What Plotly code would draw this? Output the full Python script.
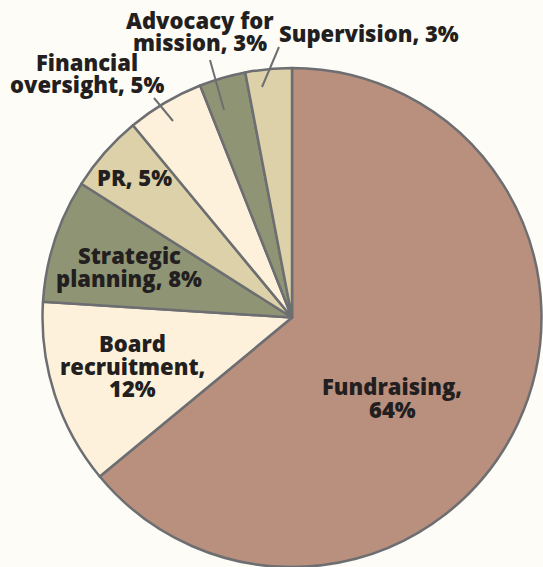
import plotly.graph_objects as go

W, H = 543, 567

labels = ["Fundraising", "Board recruitment", "Strategic planning", "PR",
          "Financial oversight", "Advocacy for mission", "Supervision"]
values = [64, 12, 8, 5, 5, 3, 3]
colors = ["#B98F7E", "#FDF1DC", "#8F9574", "#DCD1A9", "#FDF1DC", "#8F9574", "#DCD1A9"]

# label lines as in the original, and where the first line sits (pixels)
label_lines = [["Fundraising,", "64%"], ["Board", "recruitment,", "12%"],
               ["Strategic", "planning, 8%"], ["PR, 5%"], ["Financial", "oversight, 5%"],
               ["Advocacy for", "mission, 3%"], ["Supervision, 3%"]]
label_pos = [(392, 387), (132, 344), (129, 256), (134, 178), (87, 63), (200, 21), (369, 34)]
LINE_PITCH = 22.5

# leader lines for the small slices: (x0, y0, x1, y1) in pixels
leaders = [(154, 98, 173, 121), (210, 60, 224, 110), (279, 47, 262, 87)]


def px(x, y):
    return x / W, 1 - y / H


fig = go.Figure(go.Pie(
    labels=labels,
    values=values,
    sort=False,
    direction="clockwise",
    rotation=0,
    textinfo="none",
    hoverinfo="label+percent",
    marker=dict(colors=colors, line=dict(color="#6D6E71", width=2.5)),
    domain=dict(x=[42 / W, 542 / W], y=[0, 1 - 68 / H]),
    showlegend=False,
))

for lines, (x, y) in zip(label_lines, label_pos):
    for i, line in enumerate(lines):
        ax, ay = px(x, y + i * LINE_PITCH - 1)
        fig.add_annotation(x=ax, y=ay, xref="paper", yref="paper", text=line,
                           showarrow=False, xanchor="center", yanchor="middle",
                           font=dict(family="Open Sans", size=22, color="#231F20", weight=800))

for x0, y0, x1, y1 in leaders:
    a0, b0 = px(x0, y0)
    a1, b1 = px(x1, y1)
    fig.add_shape(type="line", xref="paper", yref="paper", x0=a0, y0=b0, x1=a1, y1=b1,
                  line=dict(color="#6D6E71", width=2))

fig.update_layout(
    width=W, height=H,
    margin=dict(l=0, r=0, t=0, b=0),
    paper_bgcolor="#FEFCF7",
    plot_bgcolor="#FEFCF7",
)

fig.write_html("out.html", config={"displayModeBar": False},
               post_script="document.body.style.margin='0';")
